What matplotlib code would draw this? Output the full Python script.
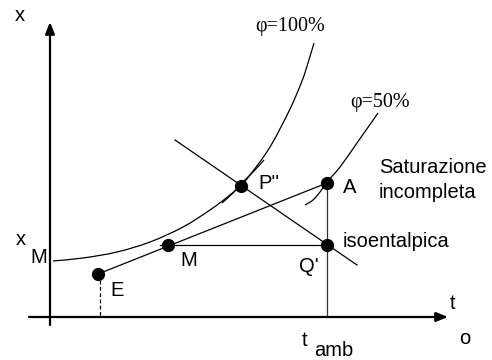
import matplotlib
matplotlib.use("Agg")
import matplotlib.pyplot as plt
from matplotlib.path import Path
from matplotlib.patches import PathPatch

SANS = "Liberation Sans"
SERIF = "Liberation Serif"
FS = 14.5

# Saturation curve (phi = 100%): temperature vs. humidity ratio, arbitrary units
sat_t = [3, 33, 67, 100, 133, 160, 180, 191, 200, 220, 240, 252, 258, 264]
sat_x = [56, 59, 65, 75, 90, 107, 122, 132, 142, 170, 208, 236, 254, 274]

# Short tangent arc drawn beside the saturation curve near P''
arc_t = [172, 183, 193, 204, 214]
arc_x = [114, 124, 135, 146, 157]

# phi = 50% curve
half_t = [255, 263, 270, 277, 290, 307, 328]
half_x = [112, 117, 125, 135, 150, 174, 204]

# State points (t, x)
E = (48, 43)
M = (118, 72)
A = (277, 134)
Q = (277, 72)
P = (191, 131)

# Isenthalpic line through P'' and Q'
iso_t = [125, 307]
iso_x = [177, 52]


def smooth_curve(ax, xs, ys, **kw):
    """Draw a smooth curve through the given points (Catmull-Rom as cubic Beziers)."""
    pts = list(zip(xs, ys))
    verts = [pts[0]]
    codes = [Path.MOVETO]
    n = len(pts)
    for i in range(n - 1):
        p0 = pts[i - 1] if i > 0 else pts[i]
        p1 = pts[i]
        p2 = pts[i + 1]
        p3 = pts[i + 2] if i + 2 < n else pts[i + 1]
        c1 = (p1[0] + (p2[0] - p0[0]) / 6.0, p1[1] + (p2[1] - p0[1]) / 6.0)
        c2 = (p2[0] - (p3[0] - p1[0]) / 6.0, p2[1] - (p3[1] - p1[1]) / 6.0)
        verts += [c1, c2, p2]
        codes += [Path.CURVE4] * 3
    ax.add_patch(PathPatch(Path(verts, codes), fill=False, **kw))


fig = plt.figure(figsize=(4.92, 3.60), dpi=100)
ax = fig.add_axes([0, 0, 1, 1])
ax.set_xlim(-50, 442)
ax.set_ylim(-43, 317)
ax.axis("off")

# Axes with arrow heads
arrow = dict(arrowstyle="-|>,head_length=0.5,head_width=0.2", lw=1.6,
             color="black", mutation_scale=14, shrinkA=0, shrinkB=0)
ax.annotate("", xy=(398, 0), xytext=(-21, 0), arrowprops=arrow)
ax.annotate("", xy=(0, 295), xytext=(0, -8), arrowprops=arrow)

# Curves
smooth_curve(ax, sat_t, sat_x, edgecolor="black", lw=0.9)
smooth_curve(ax, arc_t, arc_x, edgecolor="black", lw=0.9)
smooth_curve(ax, half_t, half_x, edgecolor="black", lw=0.9)

# Process lines
ax.plot([E[0], A[0]], [E[1], A[1]], color="black", lw=0.9)
ax.plot([M[0] - 8, Q[0]], [M[1], Q[1]], color="black", lw=0.9)
ax.plot([A[0], A[0]], [A[1], 0], color="#333333", lw=0.9)
ax.plot(iso_t, iso_x, color="black", lw=0.9)
ax.plot([E[0] + 1.5, E[0] + 1.5], [E[1], 0], color="black", lw=0.9,
        ls=(0, (3, 2)))

# State points
for pt in (E, M, A, Q, P):
    ax.plot(pt[0], pt[1], "o", color="black", ms=8.5, zorder=5)


def label(x, y, s, family=SANS, **kw):
    ax.text(x, y, s, family=family, fontsize=FS, ha="left", va="baseline", **kw)


label(-35, 296, "x")
label(-34, 72, "x")
label(-20, 54, "M")
label(205, 286, "φ=100%", family=SERIF)
label(300, 210, "φ=50%", family=SERIF)
label(329, 144, "Saturazione")
label(329, 119, "incompleta")
label(293, 70, "isoentalpica")
label(208, 128, "P''")
label(293, 124, "A")
label(249, 45, "Q'")
label(130, 51, "M")
label(60, 21, "E")
label(400, 8, "t")
label(409, -27, "o")
label(252, -29, "t")
label(264, -39, "amb")

fig.savefig("out.png", dpi=100)
